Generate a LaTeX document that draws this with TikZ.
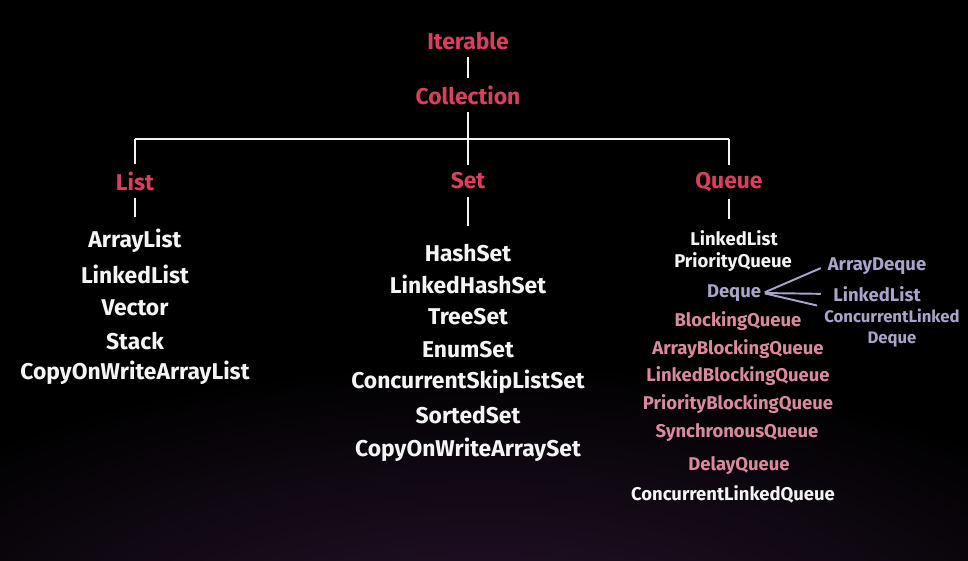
\documentclass[tikz,border=0pt]{standalone}
\usepackage{fontspec}
\setmainfont{Fira Sans}
\usetikzlibrary{positioning}
\definecolor{titlered}{HTML}{D9405E}
\definecolor{itempink}{HTML}{D98A9C}
\definecolor{dequelav}{HTML}{A9A4C9}
\definecolor{itemwhite}{HTML}{F4F4F4}
\definecolor{glowpurple}{HTML}{2A1530}
\tikzset{
    hdnode/.style = {inner sep=1pt,text=titlered,font=\fontsize{13}{15}\selectfont\bfseries},
    itnode/.style = {inner sep=1pt,text=itemwhite,font=\fontsize{13}{15}\selectfont\bfseries},
    qwnode/.style = {inner sep=1pt,text=itemwhite,font=\fontsize{10.5}{12}\selectfont\bfseries},
    qpnode/.style = {inner sep=1pt,text=itempink,font=\fontsize{10.5}{12}\selectfont\bfseries},
    qlnode/.style = {inner sep=1pt,text=dequelav,font=\fontsize{10.5}{12}\selectfont\bfseries},
    dknode/.style = {inner sep=1pt,text=dequelav,align=center,font=\fontsize{10.5}{12}\selectfont\bfseries},
    edgew/.style = {-,line width=1.1pt,itemwhite,shorten <=3pt,shorten >=3pt},
    edgel/.style = {-,line width=1.1pt,dequelav,shorten <=1pt,shorten >=3pt}
}
\begin{document}
\begin{tikzpicture}[x=0.02cm,y=-0.02cm]
\path[use as bounding box] (0,0) rectangle (968,561);
\begin{scope}
\clip (0,0) rectangle (968,561);
\fill[black] (0,0) rectangle (968,561);
\shade[inner color=glowpurple,outer color=black] (484,660) ellipse (720 and 300);
\end{scope}
%
\node[hdnode] at (468,41) (iter) {Iterable};
\node[hdnode] at (468,95) (coll) {Collection};
\coordinate (lbar) at (135,139);
\coordinate (cbar) at (468,139);
\coordinate (qbar) at (729,139);
\node[hdnode] at (135,181) (list) {List};
\node[hdnode] at (468,181) (set) {Set};
\node[hdnode] at (729,182) (queue) {Queue};
%
\node[itnode] at (135,241) (alist) {ArrayList};
\node[itnode] at (135,274) (llist) {LinkedList};
\node[itnode] at (135,308) (vect) {Vector};
\node[itnode] at (135,341) (stack) {Stack};
\node[itnode] at (135,373) (cowal) {CopyOnWriteArrayList};
%
\node[itnode] at (468,253) (hset) {HashSet};
\node[itnode] at (468,284) (lhset) {LinkedHashSet};
\node[itnode] at (468,317) (tset) {TreeSet};
\node[itnode] at (468,350) (eset) {EnumSet};
\node[itnode] at (468,382) (csls) {ConcurrentSkipListSet};
\node[itnode] at (468,415) (sset) {SortedSet};
\node[itnode] at (468,450) (cowas) {CopyOnWriteArraySet};
%
\node[qwnode] at (734,238) (qllist) {LinkedList};
\node[qwnode] at (733,262) (pq) {PriorityQueue};
\node[qlnode] at (734,293) (deque) {Deque};
\node[qpnode] at (738,321) (bq) {BlockingQueue};
\node[qpnode] at (738,349) (abq) {ArrayBlockingQueue};
\node[qpnode] at (738,376) (lbq) {LinkedBlockingQueue};
\node[qpnode] at (738,404) (pbq) {PriorityBlockingQueue};
\node[qpnode] at (737,433) (sq) {SynchronousQueue};
\node[qpnode] at (739,466) (dq) {DelayQueue};
\node[qwnode] at (733,494) (clq) {ConcurrentLinkedQueue};
%
\node[dknode] at (877,266) (adq) {ArrayDeque};
\node[dknode] at (877,294) (dllist) {LinkedList};
\node[dknode,font=\fontsize{9.5}{12}\selectfont\bfseries] at (892,328) (cld) {ConcurrentLinked\\Deque};
%
\draw[edgew] (iter) -- (coll);
\draw[edgew,shorten >=0pt] (coll) -- (cbar);
\draw[edgew,shorten <=0pt,shorten >=0pt] (lbar) -- (qbar);
\draw[edgew,shorten <=0pt] (lbar) -- (list);
\draw[edgew,shorten <=0pt] (cbar) -- (set);
\draw[edgew,shorten <=0pt] (qbar) -- (queue);
\draw[edgew,shorten >=6pt] (list) -- (alist);
\draw[edgew,shorten >=9pt] (set) -- (hset);
\draw[edgew,shorten >=5pt] (queue.south) -- (queue.south |- qllist.north);
%
\draw[edgel] (deque.east) -- (adq.west);
\draw[edgel,shorten >=6pt] (deque.east) -- (dllist.west);
\draw[edgel] (deque.east) -- (cld.north west);

\end{tikzpicture}
\end{document}
